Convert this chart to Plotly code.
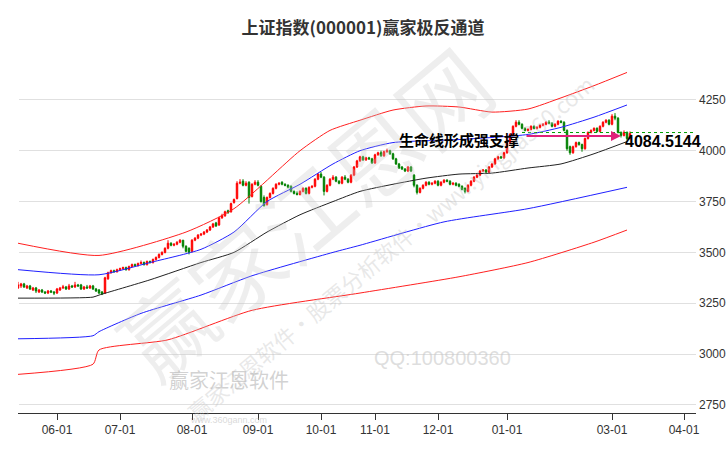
import plotly.graph_objects as go

o = [3325,3335,3345,3325,3335,3315,3325,3305,3315,3305,3300,3310,3305,3300,3315,3325,3330,3320,3335,3330,
     3340,3340,3320,3330,3325,3335,3320,3315,3305,3300,3370,3400,3410,3405,3415,3420,3425,3415,3430,3440,
     3435,3445,3450,3440,3455,3450,3465,3475,3490,3500,3520,3545,3535,3540,3550,3560,3530,3520,3505,3560,
     3570,3585,3590,3600,3610,3625,3645,3635,3670,3680,3705,3700,3745,3765,3840,3850,3830,3845,3775,3835,
     3845,3825,3770,3735,3770,3790,3815,3835,3845,3835,3830,3825,3800,3790,3785,3800,3815,3790,3820,3825,
     3860,3885,3870,3800,3830,3860,3870,3850,3840,3870,3860,3845,3880,3920,3950,3970,3955,3965,3960,3940,
     3980,3990,3975,3995,4000,3985,3960,3935,3920,3910,3900,3920,3880,3830,3795,3815,3830,3845,3835,3840,
     3850,3830,3845,3855,3850,3835,3840,3835,3825,3815,3800,3830,3850,3870,3880,3900,3905,3895,3920,3935,
     3960,3970,3965,3990,4040,4080,4120,4140,4130,4110,4100,4105,4120,4110,4115,4125,4130,4140,4135,4120,
     4130,4145,4140,4100,4020,3990,4020,4040,4030,4010,4060,4090,4100,4110,4095,4120,4140,4150,4130,4170,
     4160,4090,4075,4090,4060]
h = [3355,3350,3350,3340,3340,3330,3330,3320,3320,3310,3315,3315,3310,3325,3330,3340,3335,3345,3340,3355,
     3345,3345,3335,3340,3340,3340,3325,3320,3310,3380,3405,3415,3415,3420,3425,3430,3430,3435,3445,3445,
     3450,3460,3455,3460,3460,3470,3480,3495,3505,3525,3560,3550,3545,3555,3565,3560,3535,3525,3565,3575,
     3590,3595,3605,3615,3630,3645,3650,3675,3690,3705,3710,3745,3765,3850,3860,3860,3850,3850,3840,3855,
     3855,3830,3780,3775,3795,3820,3840,3845,3850,3840,3835,3830,3805,3800,3805,3820,3820,3825,3830,3865,
     3890,3895,3875,3835,3865,3880,3875,3855,3875,3880,3865,3885,3925,3955,3975,3975,3970,3970,3965,3985,
     3995,4000,4000,4010,4005,3990,3965,3940,3925,3915,3925,3925,3885,3835,3820,3835,3850,3850,3845,3855,
     3855,3850,3860,3860,3855,3845,3845,3840,3830,3820,3835,3855,3875,3885,3905,3910,3910,3925,3940,3965,
     3975,3975,3995,4045,4085,4125,4150,4150,4135,4115,4110,4125,4125,4120,4130,4135,4145,4150,4140,4135,
     4150,4150,4145,4105,4025,4025,4045,4045,4035,4065,4095,4105,4115,4115,4125,4145,4155,4155,4180,4185,
     4165,4095,4100,4095,4095]
l = [3320,3325,3325,3320,3315,3310,3300,3300,3300,3295,3295,3300,3290,3295,3310,3320,3315,3315,3325,3325,
     3330,3315,3315,3320,3320,3315,3305,3295,3290,3295,3365,3395,3400,3400,3410,3415,3410,3410,3425,3430,
     3430,3440,3435,3435,3445,3445,3460,3470,3485,3495,3515,3530,3530,3535,3545,3520,3500,3490,3500,3555,
     3565,3580,3585,3595,3605,3620,3625,3630,3665,3675,3690,3695,3740,3760,3835,3825,3825,3740,3770,3830,
     3825,3745,3725,3730,3765,3785,3810,3830,3830,3825,3815,3795,3785,3780,3780,3795,3785,3785,3815,3820,
     3855,3865,3780,3795,3825,3855,3845,3835,3835,3855,3840,3840,3875,3915,3945,3950,3950,3955,3935,3935,
     3975,3970,3970,3990,3980,3955,3930,3910,3905,3895,3895,3895,3820,3785,3790,3810,3825,3830,3830,3835,
     3825,3825,3840,3845,3830,3830,3825,3820,3805,3790,3795,3825,3845,3865,3875,3895,3890,3890,3915,3930,
     3955,3960,3960,3985,4035,4075,4115,4125,4105,4095,4095,4100,4105,4105,4110,4120,4125,4130,4115,4115,
     4125,4135,4095,4000,3980,3985,4015,4025,3995,4005,4055,4085,4095,4090,4090,4115,4135,4125,4125,4150,
     4085,4065,4070,4050,4055]
c = [3340,3345,3330,3335,3320,3325,3310,3315,3305,3300,3310,3305,3300,3320,3325,3330,3320,3335,3330,3340,
     3335,3320,3330,3325,3335,3320,3310,3300,3295,3375,3400,3410,3405,3415,3420,3425,3415,3430,3440,3435,
     3445,3450,3440,3455,3450,3465,3475,3490,3500,3520,3545,3535,3540,3550,3560,3530,3505,3500,3560,3570,
     3585,3590,3600,3610,3625,3640,3630,3670,3680,3700,3695,3740,3760,3840,3845,3830,3840,3770,3835,3845,
     3830,3750,3730,3770,3790,3815,3835,3840,3835,3830,3820,3800,3790,3785,3800,3815,3790,3820,3825,3860,
     3885,3870,3800,3830,3860,3870,3850,3840,3870,3860,3845,3880,3920,3950,3970,3955,3965,3960,3940,3980,
     3990,3975,3995,4000,3985,3960,3935,3915,3910,3900,3920,3900,3830,3795,3815,3830,3845,3835,3840,3850,
     3830,3845,3855,3850,3835,3840,3830,3825,3810,3800,3830,3850,3870,3880,3900,3905,3895,3920,3935,3960,
     3970,3965,3990,4040,4080,4120,4140,4130,4110,4100,4105,4120,4110,4115,4125,4130,4140,4135,4120,4130,
     4145,4140,4100,4010,3990,4020,4040,4030,4010,4060,4090,4100,4110,4095,4120,4140,4150,4130,4170,4160,
     4090,4075,4090,4060,4084.5144]
days = list(range(len(c)))

mid_x = [0,25,27,44,61,72,83,94,105,114,125,136,147,158,170,181,192,203]
mid_y = [3275,3280,3290,3365,3450,3500,3600,3685,3750,3800,3835,3865,3885,3890,3915,3935,3985,4045]
bu_x = [0,27,44,61,72,83,94,105,114,125,147,170,181,192,203]
bu_y = [3415,3390,3450,3515,3600,3750,3835,3935,4000,4040,4055,4080,4115,4165,4225]
bl_x = [0,25,27,41,61,78,105,114,142,170,203]
bl_y = [3075,3090,3110,3200,3290,3385,3500,3535,3650,3715,3820]
ru_x = [0,27,56,72,94,104,114,125,136,147,158,170,181,192,203]
ru_y = [3545,3485,3600,3715,4000,4100,4150,4200,4220,4215,4190,4205,4260,4320,4385]
rl_x = [0,25,27,50,78,114,147,170,192,203]
rl_y = [2900,2950,3020,3070,3215,3300,3380,3450,3550,3610]

tick_pos = [13,34,58,80,101,119,140,163,198,222]
tick_txt = ["06-01","07-01","08-01","09-01","10-01","11-01","12-01","01-01","03-01","04-01"]
support = 4084.5144

fig = go.Figure()
for xs, ys, col in [(ru_x, ru_y, "#ff2020"), (rl_x, rl_y, "#ff2020"), (bu_x, bu_y, "#2020ff"),
                    (bl_x, bl_y, "#2020ff"), (mid_x, mid_y, "#222222")]:
    fig.add_trace(go.Scatter(x=xs, y=ys, mode="lines", line=dict(color=col, width=1, shape="spline", smoothing=0.6), hoverinfo="skip"))
fig.add_trace(go.Candlestick(x=days, open=o, high=h, low=l, close=c,
    increasing=dict(line=dict(color="#ff0000", width=1), fillcolor="#ff0000"),
    decreasing=dict(line=dict(color="#008000", width=1), fillcolor="#008000"),
    whiskerwidth=0))
fig.add_trace(go.Scatter(x=[168, 240], y=[support + 5, support + 5], mode="lines",
    line=dict(color="#00a000", width=1, dash="dot"), hoverinfo="skip"))

wm = "rgba(190,190,190,0.35)"
fig.add_annotation(x=0.42, y=0.55, xref="paper", yref="paper", text="赢家江恩网", showarrow=False,
                   textangle=-40, font=dict(size=90, color="rgba(200,200,200,0.3)", family="Noto Sans CJK SC"))
fig.add_annotation(x=0.55, y=0.45, xref="paper", yref="paper", text="赢家江恩软件·股票分析软件·www.yingjia360.com",
                   showarrow=False, textangle=-40, font=dict(size=22, color=wm, family="Noto Sans CJK SC"))
fig.add_annotation(x=0.73, y=0.115, xref="paper", yref="paper", text="QQ:100800360", showarrow=False,
                   font=dict(size=20, color="rgba(200,200,200,0.6)", family="Liberation Sans"))
fig.add_annotation(x=0.22, y=0.045, xref="paper", yref="paper", text="赢家江恩软件", showarrow=False,
                   font=dict(size=20, color="rgba(180,180,180,0.6)", family="Noto Sans CJK SC"))
fig.add_annotation(x=0.25, y=0.0, xref="paper", yref="paper", yanchor="top", text="www.360gann.com", showarrow=False,
                   font=dict(size=9, color="rgba(180,180,180,0.5)", family="Liberation Sans"))

fig.add_annotation(x=201, y=4072, ax=169, ay=4072, xref="x", yref="y", axref="x", ayref="y",
                   text="", showarrow=True, arrowhead=2, arrowsize=1, arrowwidth=2, arrowcolor="#e0207a")
fig.add_annotation(x=147, y=4054, text="生命线形成强支撑", showarrow=False,
                   font=dict(size=15, color="black", family="Noto Sans CJK SC", weight="bold"))
fig.add_annotation(x=215, y=4046, text="4084.5144", showarrow=False,
                   font=dict(size=16, color="black", family="Liberation Sans", weight="bold"))

fig.update_layout(
    width=726, height=450, margin=dict(l=18, r=30, t=45, b=37, autoexpand=False),
    paper_bgcolor="white", plot_bgcolor="white", showlegend=False,
    title=dict(text="上证指数(000001)赢家极反通道", x=0.5, y=0.95, xanchor="center",
               font=dict(size=17, color="#333", family="Noto Sans CJK SC", weight="bold")),
    xaxis=dict(range=[0, 226], tickvals=tick_pos, ticktext=tick_txt, showgrid=False, rangeslider=dict(visible=False),
               automargin=False, showline=True, linecolor="#333", ticks="outside", ticklen=6, tickcolor="#333",
               tickfont=dict(size=12, color="#333", family="Liberation Sans Narrow, Liberation Sans")),
    yaxis=dict(range=[2710, 4520], tickvals=[2750,3000,3250,3500,3750,4000,4250], side="right", automargin=False,
               showgrid=True, gridcolor="#e0e0e0", zeroline=False, ticklabelstandoff=2,
               tickfont=dict(size=12, color="#333", family="Liberation Sans Narrow, Liberation Sans")),
)
fig.write_html("out.html", config={"displayModeBar": False},
               post_script="document.body.style.margin='0';document.body.style.overflow='hidden';")
